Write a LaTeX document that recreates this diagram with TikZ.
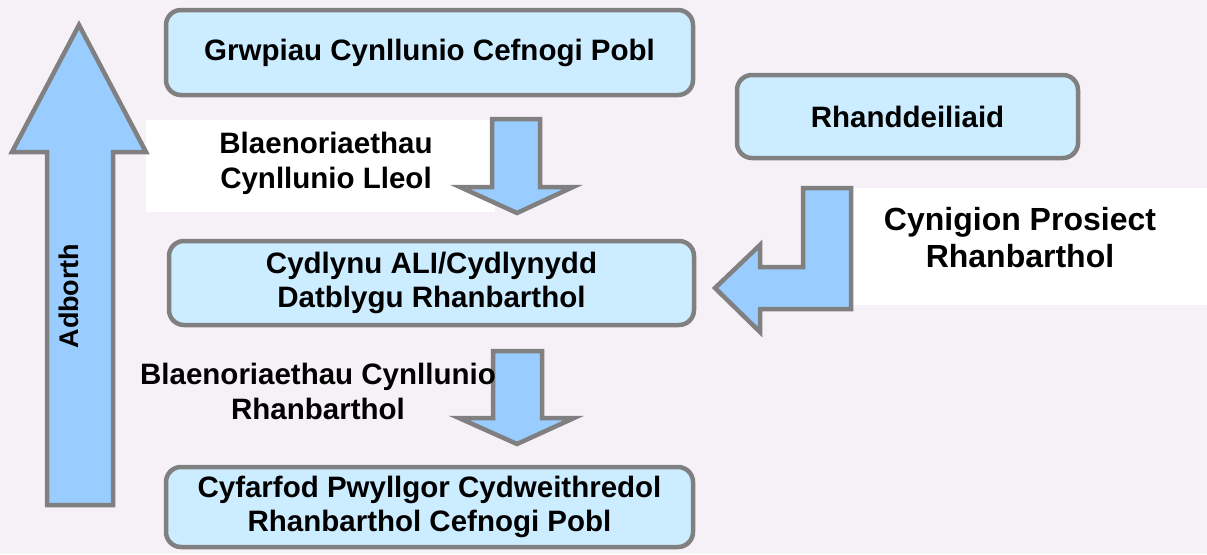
\documentclass[tikz,border=0pt]{standalone}
\usepackage{fontspec}
\setmainfont{Liberation Sans}
\definecolor{bgcol}{RGB}{246,240,247}
\definecolor{boxfill}{RGB}{204,236,255}
\definecolor{arrfill}{RGB}{153,204,255}
\definecolor{edgegray}{RGB}{128,128,128}
\begin{document}
\begin{tikzpicture}[x=1pt,y=-1pt,
  box/.style={draw=edgegray, line width=4.5pt, fill=boxfill, rounded corners=15pt,
    inner sep=0pt, align=center, font=\bfseries\fontsize{29.5}{34}\selectfont},
  blockarrow/.style={draw=edgegray, line width=4.5pt, fill=arrfill, line join=miter},
  lbl/.style={align=center, inner sep=0pt, font=\bfseries\fontsize{29.5}{35}\selectfont}]
\fill[bgcol] (0,0) rectangle (1207,554);
\useasboundingbox (0,0) rectangle (1207,554);

% white label backgrounds
\fill[white] (146,120) rectangle (495,212);
\fill[white] (851,188) rectangle (1207,305);

% boxes
\node[box, minimum width=527pt, minimum height=85pt] (b1) at (429.5,52.5) {Grwpiau Cynllunio Cefnogi Pobl};
\node[box, minimum width=341pt, minimum height=83pt] (rh) at (907.5,116.5) {Rhanddeiliaid};
\node[box, minimum width=525pt, minimum height=84pt] (b2) at (431.5,283) {Cydlynu ALI/Cydlynydd\\Datblygu Rhanbarthol};
\node[box, minimum width=527pt, minimum height=80pt] (b3) at (429.5,507) {Cyfarfod Pwyllgor Cydweithredol\\Rhanbarthol Cefnogi Pobl};

% big feedback arrow
\draw[blockarrow] (79,25) -- (146,152) -- (113,152) -- (113,505) -- (47,505) -- (47,152) -- (12,152) -- cycle;
\node[lbl, rotate=90, font=\bfseries\fontsize{27}{32}\selectfont] (adb) at (69,296) {Adborth};

% down arrow 1
\draw[blockarrow] (492,119) -- (540,119) -- (540,187) -- (573,187) -- (517,213) -- (460,187) -- (492,187) -- cycle;
% down arrow 2
\draw[blockarrow] (493,351) -- (542,351) -- (542,418) -- (574,418) -- (517,444) -- (459,418) -- (493,418) -- cycle;
% bent arrow
\draw[blockarrow] (803,188) -- (851,188) -- (851,309) -- (760,309) -- (760,332) -- (715,288) -- (760,245) -- (760,267) -- (803,267) -- cycle;

% labels
\node[lbl] (l1) at (326,163) {Blaenoriaethau\\Cynllunio Lleol};
\node[lbl] (l2) at (318,391) {Blaenoriaethau Cynllunio\\Rhanbarthol};
\node[lbl, font=\bfseries\fontsize{32}{37}\selectfont] (l3) at (1020,238) {Cynigion Prosiect\\Rhanbarthol};
\end{tikzpicture}
\end{document}
